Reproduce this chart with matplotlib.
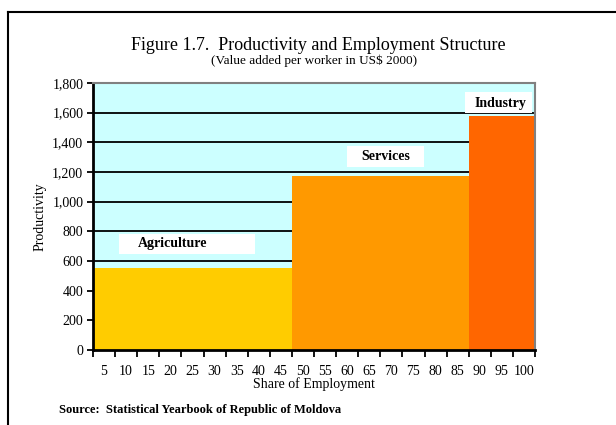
import numpy as np
import matplotlib.pyplot as plt
from matplotlib.lines import Line2D
from matplotlib.patches import Rectangle

# data
sectors = ["Agriculture", "Services", "Industry"]
employment_share = [45, 40, 15]        # % of employment (bar widths)
productivity = [555, 1170, 1575]       # value added per worker, US$ 2000
colors = ["#FFCC00", "#FF9900", "#FF6600"]
x_tick_labels = [str(v) for v in range(5, 105, 5)]
y_ticks = list(range(0, 2000, 200))

# label boxes (x0, x1, y0, y1) and text centres, in data units
label_boxes = [(5.9, 36.7, 647, 782), (57.5, 74.9, 1234, 1375), (84.2, 99.3, 1600, 1739)]
label_pos = [(18.1, 715), (66.3, 1305), (92.3, 1665)]

plt.rcParams["font.family"] = ["Liberation Serif", "DejaVu Serif"]

fig = plt.figure(figsize=(6.16, 4.25), dpi=100)
ax = fig.add_axes([93 / 616, 1 - 350 / 425, 442 / 616, 267 / 425])
ax.set_facecolor("#CCFFFF")

lefts = np.cumsum([0] + employment_share[:-1])
ax.bar(lefts, productivity, width=employment_share, align="edge",
       color=colors, zorder=3, linewidth=0)

for name, (x0, x1, y0, y1), (x, y) in zip(sectors, label_boxes, label_pos):
    ax.add_patch(Rectangle((x0, y0), x1 - x0, y1 - y0, facecolor="white",
                           edgecolor="none", zorder=4))
    ax.text(x, y, name, ha="center", va="center", fontsize=10,
            fontweight="bold", zorder=5)

ax.set_xlim(0, 100)
ax.set_ylim(0, 1800)
ax.set_yticks(y_ticks)
ax.set_yticklabels([f"{v:,}" for v in y_ticks], fontsize=10)
ax.yaxis.grid(True, color="black", linewidth=1.3, zorder=1)
ax.set_axisbelow(True)

ax.set_xticks(np.arange(0, 105, 5))
ax.set_xticklabels([])
ax.set_xticks(np.arange(2.5, 100, 5), minor=True)
ax.set_xticklabels(x_tick_labels, minor=True, fontsize=10)
ax.tick_params(axis="x", which="major", direction="out", length=5, width=1.3)
ax.tick_params(axis="x", which="minor", length=0, pad=11)
ax.tick_params(axis="y", direction="out", length=4, width=1.3, pad=3)

ax.set_xlabel("Share of Employment", fontsize=10, labelpad=-1)
ax.set_ylabel("Productivity", fontsize=10, labelpad=4)

for side in ["left", "bottom"]:
    ax.spines[side].set_linewidth(2)
    ax.spines[side].set_color("black")
    ax.spines[side].set_zorder(6)
for side in ["top", "right"]:
    ax.spines[side].set_linewidth(1.5)
    ax.spines[side].set_color("#808080")
    ax.spines[side].set_zorder(6)

fig.text(318 / 616, 1 - 46 / 425, "Figure 1.7.  Productivity and Employment Structure",
         ha="center", va="center", fontsize=13)
fig.text(314 / 616, 1 - 61 / 425, "(Value added per worker in US$ 2000)",
         ha="center", va="center", fontsize=9.5)
fig.text(59 / 616, 1 - 410 / 425, "Source:  Statistical Yearbook of Republic of Moldova",
         ha="left", va="center", fontsize=9, fontweight="bold")

# outer frame (cut off at right and bottom)
fig.add_artist(Line2D([8 / 616, 8 / 616], [0, 1 - 12 / 425], color="black", linewidth=1.5))
fig.add_artist(Line2D([8 / 616, 1], [1 - 12 / 425, 1 - 12 / 425], color="black", linewidth=1.5))

fig.savefig("out.png", dpi=100)
